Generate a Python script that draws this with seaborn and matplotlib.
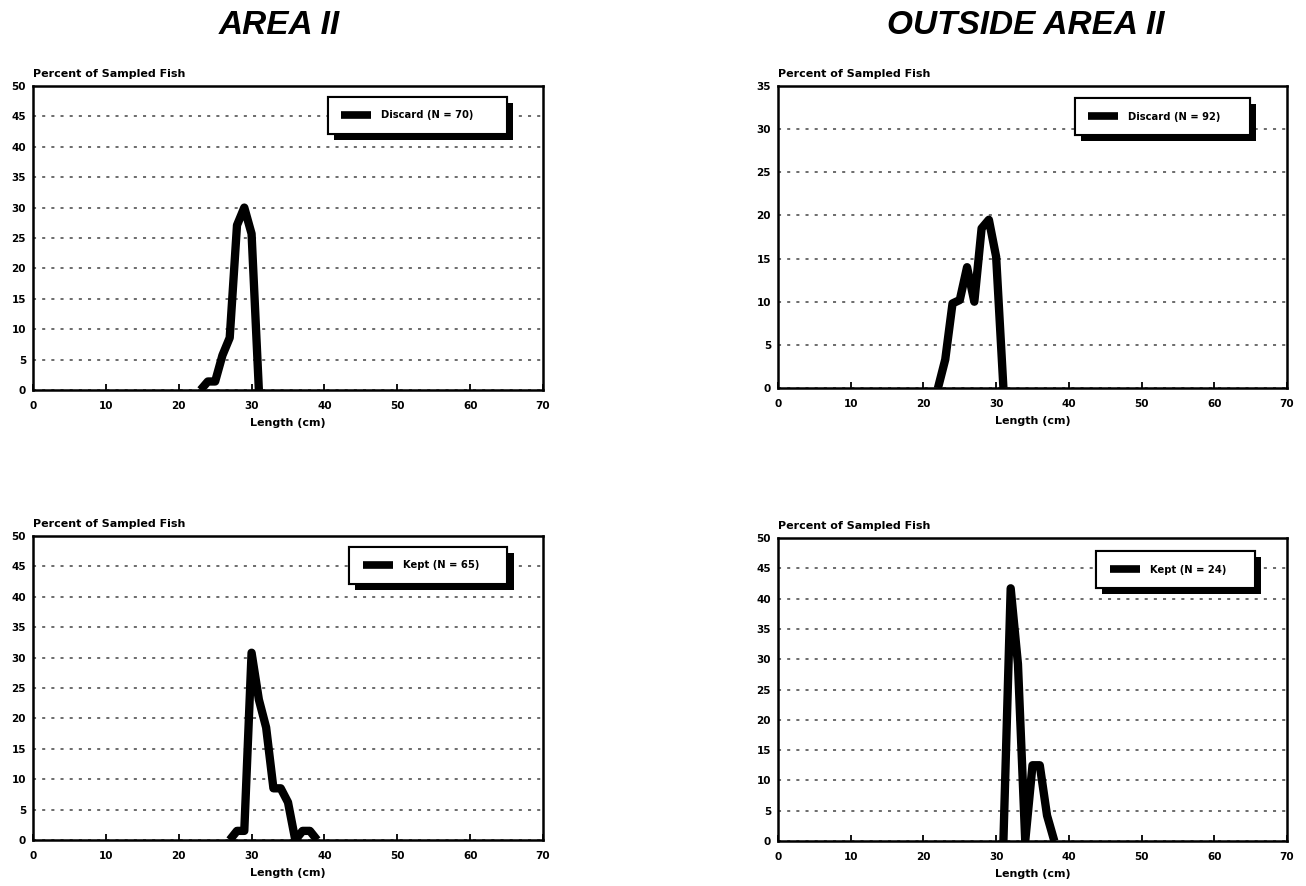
import matplotlib
matplotlib.use("Agg")
import matplotlib.pyplot as plt
import matplotlib.patheffects as pe
import pandas as pd
import seaborn as sns

# Length-frequency of sampled fish (percent per 1-cm length class)
area_discard_len = [23, 24, 25, 26, 27, 28, 29, 30, 31]
area_discard_pct = [0, 1.4, 1.4, 5.7, 8.6, 27.1, 30.0, 25.7, 0]

outside_discard_len = [22, 23, 24, 25, 26, 27, 28, 29, 30, 31]
outside_discard_pct = [0, 3.3, 9.8, 10.2, 14.0, 10.0, 18.5, 19.5, 15.2, 0]

area_kept_len = [27, 28, 29, 30, 31, 32, 33, 34, 35, 36, 37, 38, 39]
area_kept_pct = [0, 1.5, 1.5, 30.8, 23.1, 18.5, 8.5, 8.5, 6.2, 0, 1.5, 1.5, 0]

outside_kept_len = [31, 32, 33, 34, 35, 36, 37, 38]
outside_kept_pct = [0, 41.7, 29.2, 0, 12.5, 12.5, 4.2, 0]

column_titles = ["AREA II", "OUTSIDE AREA II"]
x_label = "Length (cm)"
y_label = "Percent of Sampled Fish"

sns.set_style("white")
plt.rcParams["font.family"] = ["DejaVu Sans"]
plt.rcParams["font.weight"] = "bold"
for key in ["text.color", "axes.labelcolor", "xtick.color", "ytick.color",
            "xtick.labelcolor", "ytick.labelcolor"]:
    plt.rcParams[key] = "black"

W, H = 1306, 886
fig = plt.figure(figsize=(W / 100, H / 100), dpi=100)


def px_axes(x0, y0, x1, y1):
    return fig.add_axes([x0 / W, 1 - y1 / H, (x1 - x0) / W, (y1 - y0) / H])


def panel(ax, lengths, pcts, ymax, label, legend_box):
    df = pd.DataFrame({"length": lengths, "pct": pcts})
    sns.lineplot(data=df, x="length", y="pct", ax=ax, color="black",
                 linewidth=6, sort=False, estimator=None, label=label,
                 solid_joinstyle="round", solid_capstyle="butt")
    ax.set_xlim(0, 70)
    ax.set_ylim(0, ymax)
    ax.set_xticks(range(0, 71, 10))
    ax.set_yticks(range(0, ymax + 1, 5))
    ax.grid(axis="y", linestyle=(0, (2, 4)), color="#444444", linewidth=1.1)
    ax.grid(axis="x", visible=False)
    ax.tick_params(axis="x", direction="in", length=4, width=1.3, pad=8,
                   labelsize=7.5, bottom=True, colors="black")
    ax.tick_params(axis="y", length=0, pad=5, labelsize=7.5, colors="black")
    for s in ax.spines.values():
        s.set_visible(True)
        s.set_linewidth(1.8)
        s.set_color("black")
    ax.set_xlabel(x_label, fontsize=8, fontweight="bold", labelpad=5,
                  color="black")
    ax.set_ylabel("")
    ax.text(0, 1.022, y_label, transform=ax.transAxes, ha="left",
            va="bottom", fontsize=8, fontweight="bold", color="black")
    leg = ax.legend(loc="upper left", bbox_to_anchor=legend_box,
                    mode="expand", borderaxespad=0, frameon=True,
                    fancybox=False, framealpha=1, edgecolor="black",
                    handlelength=3.0, handletextpad=1.0, borderpad=1.35,
                    prop=dict(weight="bold", size=7.2))
    for t in leg.get_texts():
        t.set_color("black")
    frame = leg.get_frame()
    frame.set_linewidth(1.5)
    frame.set_path_effects([
        pe.withSimplePatchShadow(offset=(4.5, -4.5), shadow_rgbFace="black",
                                 alpha=1.0),
        pe.Normal(),
    ])
    for h in leg.get_lines():
        h.set_linewidth(5.5)
        h.set_solid_capstyle("butt")


ax_tl = px_axes(33, 86, 543, 390)
ax_tr = px_axes(778, 86, 1287, 388)
ax_bl = px_axes(33, 536, 543, 840)
ax_br = px_axes(778, 538, 1287, 841)

panel(ax_tl, area_discard_len, area_discard_pct, 50, "Discard (N = 70)",
      (0.578, 0.964, 0.351, 0.0))
panel(ax_tr, outside_discard_len, outside_discard_pct, 35, "Discard (N = 92)",
      (0.583, 0.96, 0.344, 0.0))
panel(ax_bl, area_kept_len, area_kept_pct, 50, "Kept (N = 65)",
      (0.62, 0.964, 0.31, 0.0))
panel(ax_br, outside_kept_len, outside_kept_pct, 50, "Kept (N = 24)",
      (0.625, 0.957, 0.312, 0.0))

for xc, title in zip([279, 1026], column_titles):
    fig.text(xc / W, 1 - 25 / H, title, ha="center", va="center",
             fontsize=24, fontweight="bold", fontstyle="italic",
             family=["Liberation Sans", "DejaVu Sans"], color="black")

fig.savefig("out.png", dpi=100, facecolor="white")
